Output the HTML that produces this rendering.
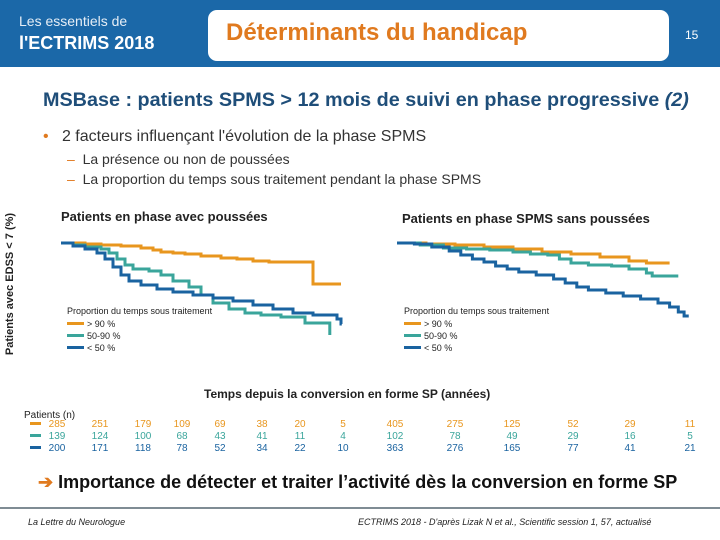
<!DOCTYPE html>
<html><head><meta charset="utf-8"><style>
body{margin:0;width:720px;height:540px;overflow:hidden;background:#fff;font-family:"Liberation Sans",sans-serif;position:relative}
.a{position:absolute;white-space:nowrap}
</style></head><body>
<div class="a" style="left:0;top:0;width:720px;height:67px;background:#1b68a8"></div>
<div class="a" style="left:19px;top:13px;color:#e6eef6;font-size:14px">Les essentiels de</div>
<div class="a" style="left:19px;top:33px;color:#fff;font-size:18px;font-weight:bold">l'ECTRIMS 2018</div>
<div class="a" style="left:208px;top:10px;width:461px;height:51px;background:#fff;border-radius:9px"></div>
<div class="a" style="left:226px;top:19px;color:#e07a1f;font-size:24px;font-weight:bold">Déterminants du handicap</div>
<div class="a" style="left:685px;top:28px;color:#fff;font-size:12px">15</div>
<div class="a" style="left:43px;top:89px;color:#1f4e79;font-size:19.8px;font-weight:bold">MSBase : patients SPMS &gt; 12 mois de suivi en phase progressive <i>(2)</i></div>
<div class="a" style="left:43px;top:128px;color:#333;font-size:16px"><span style="color:#e07a1f">•</span>&nbsp;&nbsp; 2 facteurs influençant l'évolution de la phase SPMS</div>
<div class="a" style="left:67px;top:151px;color:#333;font-size:14px"><span style="color:#e07a1f">–</span>&nbsp; La présence ou non de poussées</div>
<div class="a" style="left:67px;top:171px;color:#333;font-size:14px"><span style="color:#e07a1f">–</span>&nbsp; La proportion du temps sous traitement pendant la phase SPMS</div>
<div class="a" style="left:-70px;top:278px;width:160px;text-align:center;transform:rotate(-90deg);font-size:11px;font-weight:bold;color:#222">Patients avec EDSS &lt; 7 (%)</div>
<div class="a" style="left:61px;top:209px;font-size:13px;font-weight:bold;color:#222">Patients en phase avec poussées</div>
<div class="a" style="left:402px;top:211px;font-size:13px;font-weight:bold;color:#222">Patients en phase SPMS sans poussées</div>
<div class="a" style="left:204px;top:387px;font-size:12px;font-weight:bold;color:#222">Temps depuis la conversion en forme SP (années)</div>
<svg class="a" id="chart" style="left:0;top:0" width="720" height="540"></svg>
<div class="a" style="left:24px;top:410px;font-size:10px;color:#222">Patients (n)</div>
<div class="a" style="left:38px;top:472px;font-size:18px;font-weight:bold;color:#111"><span style="color:#e07a1f">➔</span> Importance de détecter et traiter l’activité dès la conversion en forme SP</div>
<div class="a" style="left:0;top:507px;width:720px;height:2px;background:#7f8c94"></div>
<div class="a" style="left:28px;top:517px;font-size:9px;font-style:italic;color:#222">La Lettre du Neurologue</div>
<div class="a" style="left:358px;top:517px;font-size:9px;font-style:italic;color:#222">ECTRIMS 2018 - D'après Lizak N et al., Scientific session 1, 57, actualisé</div>
<script>
const colors=["#e8961e","#3aa59b","#1a63a0"];
const legendLabels=["> 90 %","50-90 %","< 50 %"];
const leftOrange=[[0,100],[0.6,99.5],[1,99],[1.5,98.5],[2,97.5],[2.3,96.5],[2.5,95.5],[2.8,95],[3.1,94.5],[3.5,93.5],[4,92.5],[4.4,92],[4.8,91],[5.2,90.5],[6.3,79.5],[7,79.5]];
const leftTeal=[[0,100],[0.3,99],[0.6,98],[1,97],[1.2,95],[1.4,92],[1.6,89],[1.8,87],[2.2,86],[2.5,84],[2.8,81],[3.2,78],[3.5,74],[3.8,70],[4.2,67],[4.6,65],[5,64],[5.5,63],[6.1,60],[6.72,54],[6.72,54]];
const leftBlue=[[0,100],[0.3,98.5],[0.6,97],[0.9,95],[1.1,92],[1.3,88],[1.5,84],[1.7,81],[2,79],[2.4,77],[2.8,75.5],[3.3,74],[3.8,72.5],[4.3,71],[4.8,69],[5.3,67],[5.8,65],[6.3,64],[6.9,62],[7,59.5],[7.02,59.5]];
const rightOrange=[[0,100],[0.5,99.5],[1,99],[1.5,98],[2,97],[2.5,95.5],[3,94.5],[3.5,93],[4,91],[4.3,90],[4.7,90]];
const rightTeal=[[0,100],[0.4,99],[0.8,97.5],[1.2,97],[1.6,96.5],[2,95.5],[2.3,94.5],[2.6,94],[2.8,92],[3,90],[3.3,89],[3.7,88.5],[4,87],[4.3,85],[4.4,83.5],[4.85,83.5]];
const rightBlue=[[0,100],[0.3,99.5],[0.6,98],[0.9,96],[1.1,94],[1.3,92],[1.5,90.5],[1.7,88.5],[1.9,87],[2.1,85.5],[2.4,84],[2.7,82],[2.9,80],[3.1,78],[3.3,76.5],[3.6,75],[3.9,73.5],[4.2,72],[4.5,70],[4.7,68],[4.85,65.5],[4.95,63.5],[5.03,63.5]];
const leftCounts=[[285,251,179,109,69,38,20,5],[139,124,100,68,43,41,11,4],[200,171,118,78,52,34,22,10]];
const rightCounts=[[405,275,125,52,29,11],[102,78,49,29,16,5],[363,276,165,77,41,21]];
const NS="http://www.w3.org/2000/svg";
const svg=document.getElementById('chart');
const yS=v=>243+(100-v)*2;
const xL=t=>61+t*40, xR=t=>397+t*58;
function step(data,xs){let d="M"+xs(data[0][0])+","+yS(data[0][1]);for(let i=1;i<data.length;i++){d+=" H"+xs(data[i][0])+" V"+yS(data[i][1]);}return d;}
function line(data,xs,c,name){const p=document.createElementNS(NS,'path');p.setAttribute('d',step(data,xs));p.setAttribute('fill','none');p.setAttribute('stroke',c);p.setAttribute('stroke-width','3');


svg.appendChild(p);}
line(leftOrange,xL,colors[0],'left-line-gt90');line(leftTeal,xL,colors[1],'left-line-50-90');line(leftBlue,xL,colors[2],'left-line-lt50');
line(rightOrange,xR,colors[0],'right-line-gt90');line(rightTeal,xR,colors[1],'right-line-50-90');line(rightBlue,xR,colors[2],'right-line-lt50');
function txt(x,y,s,c,size,anchor,name){const t=document.createElementNS(NS,'text');t.setAttribute('x',x);t.setAttribute('y',y);t.setAttribute('fill',c);t.setAttribute('font-size',size);t.setAttribute('font-family','Liberation Sans, sans-serif');if(anchor)t.setAttribute('text-anchor',anchor);t.textContent=s;


svg.appendChild(t);}
function rect(x,y,w,h,c,name){const r=document.createElementNS(NS,'rect');r.setAttribute('x',x);r.setAttribute('y',y);r.setAttribute('width',w);r.setAttribute('height',h);r.setAttribute('fill',c);


svg.appendChild(r);}
[[67,'left'],[404,'right']].forEach(([lx,side])=>{
 txt(lx,314,'Proportion du temps sous traitement','#222',9,null,side+'-legend-title');
 legendLabels.forEach((l,i)=>{rect(lx,322+i*12,17,3,colors[i],side+'-legend-swatch');txt(lx+20,327+i*12,l,'#222',9,null,side+'-legend-label');});
});
const lCols=[57,100,143,182,220,262,300,343], rCols=[395,455,512,573,630,690];
leftCounts.forEach((row,i)=>{rect(30,422+i*12,11,3,colors[i],'count-swatch');row.forEach((v,j)=>txt(lCols[j],427+i*12,v,colors[i],10,'middle','left-count'));});
rightCounts.forEach((row,i)=>row.forEach((v,j)=>txt(rCols[j],427+i*12,v,colors[i],10,'middle','right-count')));
</script>
</body></html>
